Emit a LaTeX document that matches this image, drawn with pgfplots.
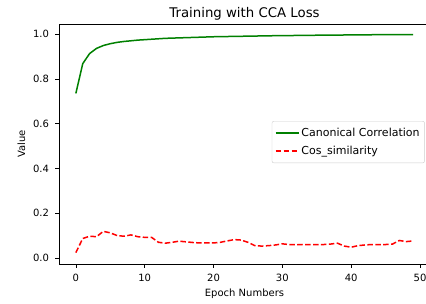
\documentclass[border=0pt]{standalone}
\usepackage{pgfplots}
\pgfplotsset{compat=1.18}
\usepackage{fontspec}
\setmainfont{DejaVu Sans}
\definecolor{mplgreen}{rgb}{0,0.5,0}
\begin{document}
\begin{tikzpicture}
\useasboundingbox (-59pt,-39pt) rectangle (367pt,264pt);
\clip (-59pt,-39pt) rectangle (367pt,264pt);
\begin{axis}[
  scale only axis,
  width=371pt, height=240pt,
  xmin=-2.45, xmax=51.45,
  ymin=-0.027, ymax=1.045,
  xtick={0,10,20,30,40,50},
  ytick={0,0.2,0.4,0.6,0.8,1.0},
  /pgf/number format/assume math mode=true,
  tick align=outside,
  xtick pos=bottom, ytick pos=left,
  major tick length=3.5pt,
  tick style={black, line width=0.6pt},
  axis line style={line width=0.6pt},
  ticklabel style={font=\fontsize{10}{12}\selectfont},
  xticklabel style={yshift=-3pt},
  yticklabel style={xshift=-3pt, /pgf/number format/.cd, fixed, fixed zerofill, precision=1},
  title={Training with CCA Loss},
  title style={font=\fontsize{13.3}{15}\selectfont, yshift=-5.5pt},
  xlabel={Epoch Numbers},
  ylabel={Value},
  label style={font=\fontsize{10}{12}\selectfont},
  ylabel style={yshift=1pt},
  legend style={at={(0.986,0.508)}, anchor=east, draw=black!20, rounded corners=2pt, fill=white,
    font=\fontsize{11}{13}\selectfont, row sep=4pt, inner xsep=3pt, inner ysep=5pt},
  legend cell align=left,
  legend image code/.code={\draw[#1] (0pt,0pt) -- (23pt,0pt);},
]
\addplot[color=mplgreen, line width=1.5pt] coordinates {
(0,0.735) (1,0.868) (2,0.913) (3,0.936) (4,0.949) (5,0.957) (6,0.963) (7,0.967) (8,0.970) (9,0.973)
(10,0.975) (11,0.977) (12,0.979) (13,0.981) (14,0.982) (15,0.983) (16,0.984) (17,0.985) (18,0.986) (19,0.987)
(20,0.988) (21,0.989) (22,0.989) (23,0.990) (24,0.990) (25,0.991) (26,0.991) (27,0.992) (28,0.992) (29,0.993)
(30,0.993) (31,0.993) (32,0.994) (33,0.994) (34,0.994) (35,0.995) (36,0.995) (37,0.995) (38,0.995) (39,0.996)
(40,0.996) (41,0.996) (42,0.996) (43,0.997) (44,0.997) (45,0.997) (46,0.997) (47,0.997) (48,0.998) (49,0.998)
};
\addlegendentry{Canonical Correlation}
\addplot[color=red, line width=1.5pt, dash pattern=on 5.5pt off 2.4pt] coordinates {
(0,0.024) (1,0.087) (2,0.097) (3,0.095) (4,0.119) (5,0.112) (6,0.100) (7,0.097) (8,0.103) (9,0.095)
(10,0.092) (11,0.092) (12,0.070) (13,0.066) (14,0.070) (15,0.075) (16,0.072) (17,0.069) (18,0.067) (19,0.067)
(20,0.067) (21,0.070) (22,0.076) (23,0.082) (24,0.080) (25,0.070) (26,0.055) (27,0.053) (28,0.055) (29,0.058)
(30,0.063) (31,0.060) (32,0.060) (33,0.059) (34,0.059) (35,0.059) (36,0.060) (37,0.062) (38,0.066) (39,0.053)
(40,0.048) (41,0.055) (42,0.058) (43,0.060) (44,0.060) (45,0.060) (46,0.062) (47,0.078) (48,0.073) (49,0.076)
};
\addlegendentry{Cos\_similarity}
\end{axis}
\end{tikzpicture}
\end{document}
